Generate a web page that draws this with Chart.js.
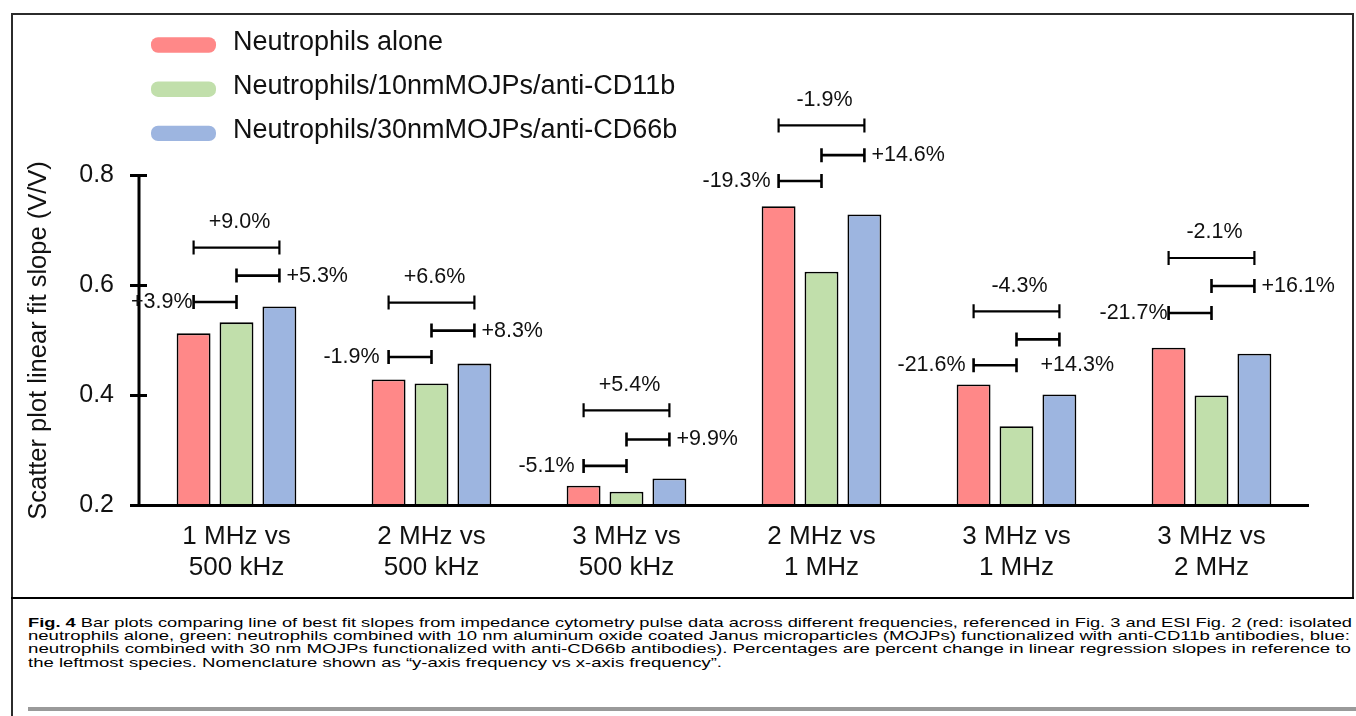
<!DOCTYPE html>
<html>
<head>
<meta charset="utf-8">
<script src="https://cdn.jsdelivr.net/npm/chart.js@4"></script>
<style>
  html, body { margin: 0; padding: 0; background: #fff; }
  body { width: 1356px; height: 716px; position: relative; overflow: hidden; }
  #wrap { position: absolute; left: 0; top: 0; width: 1356px; height: 598px; }
  .frame { position: absolute; background: #2b2b2b; }
  .cap { position: absolute; left: 28px; white-space: nowrap; transform-origin: 0 0;
         font-family: "Liberation Sans", Arial, sans-serif; font-size: 13.5px; line-height: 15px; color: #000; }
  #gray { position: absolute; left: 28px; top: 707px; width: 1328px; height: 4px; background: #9a9a9a; }
</style>
</head>
<body>
<div id="wrap"><canvas id="c" width="1356" height="598"></canvas></div>
<div class="frame" style="left:11px; top:13px; width:1343px; height:2px"></div>
<div class="frame" style="left:11px; top:13px; width:2px; height:703px"></div>
<div class="frame" style="left:1352px; top:13px; width:2px; height:586px"></div>
<div class="frame" style="left:11px; top:597px; width:1343px; height:2px; background:#000"></div>
<div class="cap" data-w="1324" style="top:614.6px"><b>Fig. 4</b> Bar plots comparing line of best fit slopes from impedance cytometry pulse data across different frequencies, referenced in Fig. 3 and ESI Fig. 2 (red: isolated</div>
<div class="cap" data-w="1322" style="top:627.9px">neutrophils alone, green: neutrophils combined with 10 nm aluminum oxide coated Janus microparticles (MOJPs) functionalized with anti-CD11b antibodies, blue:</div>
<div class="cap" data-w="1323" style="top:641.2px">neutrophils combined with 30 nm MOJPs functionalized with anti-CD66b antibodies). Percentages are percent change in linear regression slopes in reference to</div>
<div class="cap" data-w="694" style="top:654.5px">the leftmost species. Nomenclature shown as “y-axis frequency vs x-axis frequency”.</div>
<div id="gray"></div>
<script>
const categories = [
  ["1 MHz vs", "500 kHz"],
  ["2 MHz vs", "500 kHz"],
  ["3 MHz vs", "500 kHz"],
  ["2 MHz vs", "1 MHz"],
  ["3 MHz vs", "1 MHz"],
  ["3 MHz vs", "2 MHz"],
];
const seriesNames = [
  "Neutrophils alone",
  "Neutrophils/10nmMOJPs/anti-CD11b",
  "Neutrophils/30nmMOJPs/anti-CD66b",
];
const aloneVals = [0.513, 0.429, 0.236, 0.744, 0.420, 0.487];
const cd11bVals = [0.533, 0.422, 0.225, 0.625, 0.344, 0.400];
const cd66bVals = [0.562, 0.458, 0.249, 0.729, 0.402, 0.476];
const yTicks = [0.2, 0.4, 0.6, 0.8];

// bracket heights (slope units): [red-green, green-blue, red-blue]
const bracketLevels = [
  [0.570, 0.618, 0.669],
  [0.470, 0.518, 0.569],
  [0.272, 0.320, 0.373],
  [0.790, 0.837, 0.891],
  [0.455, 0.502, 0.553],
  [0.550, 0.599, 0.650],
];
const pctLabels = [
  ["+3.9%", "+5.3%", "+9.0%"],
  ["-1.9%", "+8.3%", "+6.6%"],
  ["-5.1%", "+9.9%", "+5.4%"],
  ["-19.3%", "+14.6%", "-1.9%"],
  ["-21.6%", "+14.3%", "-4.3%"],
  ["-21.7%", "+16.1%", "-2.1%"],
];

const colors = ["#ff8888", "#c1dfab", "#9db5e0"];
const FONT = '"Liberation Sans", Arial, sans-serif';
const leftGap = [1, 9, 9, 8, 8, 1];

const axesAndNotes = {
  id: "axesAndNotes",
  afterDatasetsDraw(chart) {
    const { ctx, chartArea } = chart;
    const y = chart.scales.y;
    const ax = chartArea.left;
    const yTop = y.getPixelForValue(yTicks[yTicks.length - 1]);
    const yBot = y.getPixelForValue(yTicks[0]);
    ctx.save();
    ctx.strokeStyle = "#000";
    ctx.lineWidth = 3;
    ctx.beginPath();
    ctx.moveTo(ax, yTop - 1.5);
    ctx.lineTo(ax, yBot);
    ctx.stroke();
    yTicks.forEach((v) => {
      const py = y.getPixelForValue(v);
      ctx.beginPath();
      ctx.moveTo(ax - 9, py);
      ctx.lineTo(ax + 8, py);
      ctx.stroke();
    });
    ctx.beginPath();
    ctx.moveTo(ax - 9, yBot);
    ctx.lineTo(chartArea.right, yBot);
    ctx.stroke();
    ctx.restore();
  },
  afterDraw(chart) {
    const { ctx } = chart;
    const y = chart.scales.y;
    const cx = (ds, i) => chart.getDatasetMeta(ds).data[i].x;
    const pairs = [[0, 1], [1, 2], [0, 2]];
    ctx.save();
    ctx.strokeStyle = "#000";
    ctx.fillStyle = "#111";
    ctx.font = "21.5px " + FONT;
    ctx.textBaseline = "middle";
    categories.forEach((_, g) => {
      pairs.forEach(([a, b], k) => {
        const x1 = cx(a, g), x2 = cx(b, g);
        const py = y.getPixelForValue(bracketLevels[g][k]);
        ctx.lineWidth = k === 2 ? 2.2 : 2.6;
        ctx.beginPath();
        ctx.moveTo(x1, py); ctx.lineTo(x2, py);
        ctx.moveTo(x1, py - 7); ctx.lineTo(x1, py + 7);
        ctx.moveTo(x2, py - 7); ctx.lineTo(x2, py + 7);
        ctx.stroke();
        const txt = pctLabels[g][k];
        if (k === 0) {
          ctx.textAlign = "right";
          ctx.fillText(txt, x1 - leftGap[g], py);
        } else if (k === 1) {
          ctx.textAlign = "left";
          if (g === 4) {
            // sits on the lower row, right of the green bar
            ctx.fillText(txt, cx(1, g) + 24, y.getPixelForValue(bracketLevels[g][0]));
          } else {
            ctx.fillText(txt, x2 + 7, py);
          }
        } else {
          ctx.textAlign = "center";
          ctx.fillText(txt, (x1 + x2) / 2 + 3, py - 25.5);
        }
      });
    });
    // legend
    ctx.font = "27px " + FONT;
    ctx.textAlign = "left";
    ctx.textBaseline = "alphabetic";
    chart.data.datasets.forEach((ds, i) => {
      const my = 45 + i * 44.2;
      ctx.fillStyle = ds.backgroundColor;
      ctx.beginPath();
      ctx.roundRect(151, my - 7.7, 65, 15.4, 7);
      ctx.fill();
      ctx.fillStyle = "#111";
      ctx.fillText(ds.label, 233, my + 4.5);
    });
    ctx.restore();
  },
};

const dsets = [aloneVals, cd11bVals, cd66bVals].map((vals, i) => ({
  label: seriesNames[i],
  data: vals,
  backgroundColor: colors[i],
  borderColor: "#000",
  borderWidth: 1.8,
  categoryPercentage: 0.66,
  barPercentage: 0.79,
}));

new Chart(document.getElementById("c"), {
  type: "bar",
  data: { labels: categories, datasets: dsets },
  options: {
    responsive: false,
    animation: false,
    devicePixelRatio: 1,
    layout: { padding: { top: 175.5, right: 47, bottom: 0, left: 0 } },
    plugins: { legend: { display: false }, tooltip: { enabled: false } },
    scales: {
      x: {
        grid: { display: false, drawTicks: false },
        border: { display: false },
        ticks: { color: "#111", padding: 16, font: { family: FONT, size: 26 }, },
        afterFit: (s) => { s.height = 92.5; },
      },
      y: {
        min: 0.2,
        max: 0.8,
        grid: { display: false, drawTicks: false },
        border: { display: false },
        afterBuildTicks: (s) => { s.ticks = yTicks.map((v) => ({ value: v })); },
        ticks: { color: "#111", padding: 25, font: { family: FONT, size: 25 }, callback: (v) => v.toFixed(1) },
        title: {
          display: true,
          text: "Scatter plot linear fit slope (V/V)",
          color: "#111",
          font: { family: FONT, size: 25.5 },
          padding: { top: 23.5 },
        },
        afterFit: (s) => { s.width = 139; },
      },
    },
  },
  plugins: [axesAndNotes],
});

function fitCaption() {
  document.querySelectorAll(".cap").forEach((el) => {
    el.style.transform = "none";
    const w = el.getBoundingClientRect().width;
    el.style.transform = "scaleX(" + (+el.dataset.w / w) + ")";
  });
}
fitCaption();
document.fonts.ready.then(fitCaption);
</script>
</body>
</html>
